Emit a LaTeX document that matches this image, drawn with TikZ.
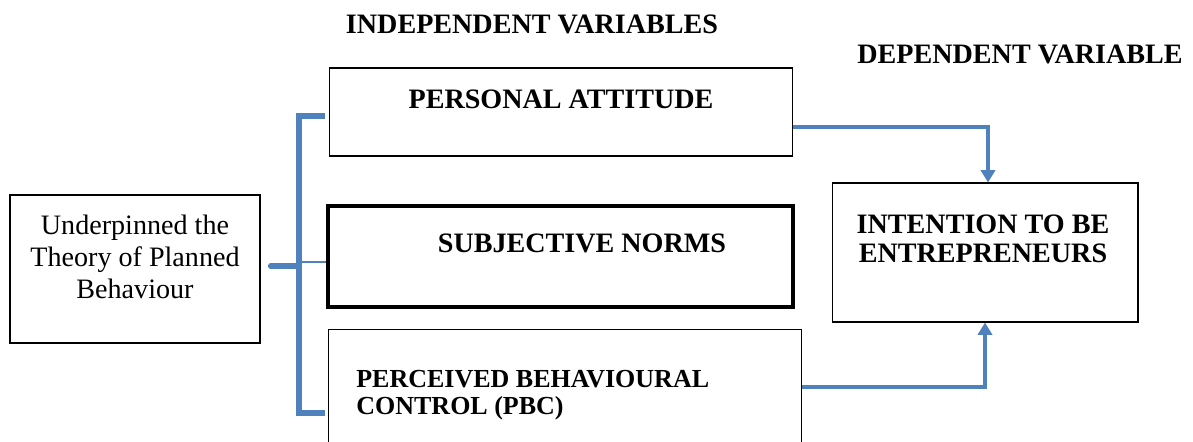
\documentclass[tikz,border=0pt]{standalone}
\usepackage{fontspec}
\setmainfont{Liberation Serif}
\usetikzlibrary{arrows.meta}
\definecolor{tpbblue}{RGB}{79,129,189}

\begin{document}
\begin{tikzpicture}
  [x=0.02cm,y=-0.02cm,
   box/.style={draw,rectangle,line width=0.6pt,inner sep=0pt},
   txt/.style={inner sep=0pt,font=\fontsize{16}{16.5}\selectfont\bfseries},
   link/.style={tpbblue,line width=2.9pt},
   arr/.style={tpbblue,line width=2.3pt,-{Triangle[length=7pt,width=8pt]}}]
  \path[use as bounding box,clip] (0,0) rectangle (1193,441);
  % headings
  \node[txt] (hind) at (532,24) {INDEPENDENT VARIABLES};
  \node[txt] (hdep) at (1020,54) {DEPENDENT VARIABLE};
  % boxes
  \node[box,minimum width=5cm,minimum height=2.96cm] (ntpb) at (135,269) {};
  \node[box,minimum width=9.28cm,minimum height=1.76cm] (npa) at (561,112) {};
  \node[box,line width=2pt,minimum width=9.3cm,minimum height=2.02cm] (nsn) at (560.5,256.5) {};
  \node[box,minimum width=9.48cm,minimum height=2.82cm] (npbc) at (565,399.5) {};
  \node[box,minimum width=6.12cm,minimum height=2.78cm] (nint) at (985,252.5) {};
  % texts
  \node[txt,font=\fontsize{16}{18.4}\selectfont,align=center] (ttpb) at (135,257)
    {Underpinned the\\Theory of Planned\\Behaviour};
  \node[txt] (tpa) at (561,99) {PERSONAL ATTITUDE};
  \node[txt] (tsn) at (582,243.5) {SUBJECTIVE NORMS};
  \node[txt,anchor=west,align=left,font=\fontsize{14.8}{15.6}\selectfont\bfseries] (tpbc) at (356,395)
    {PERCEIVED BEHAVIOURAL\\CONTROL (PBC)};
  \node[txt,align=center] (tint) at (983,239) {INTENTION TO BE\\ENTREPRENEURS};
  % bracket
  \coordinate (btop) at (299,116);
  \coordinate (bmid) at (299,266);
  \coordinate (bbot) at (299,413);
  \coordinate (bthin) at (299,262);
  \draw[link] ([xshift=-0.08cm]npa.west |- btop) -- (btop) -- (bbot) -- ([xshift=-0.06cm]npbc.west |- bbot);
  \draw[link,line cap=round] ([xshift=0.2cm]ntpb.east |- bmid) -- (bmid);
  \draw[tpbblue,line width=0.6pt] (bthin) -- (nsn.west |- bthin);
  % arrows
  \coordinate (ya) at (0,127);
  \coordinate (yb) at (0,387);
  \draw[arr] (npa.east |- ya) -| ([xshift=0.06cm]nint.north);
  \draw[arr] (npbc.east |- yb) -| (nint.south);
\end{tikzpicture}
\end{document}
